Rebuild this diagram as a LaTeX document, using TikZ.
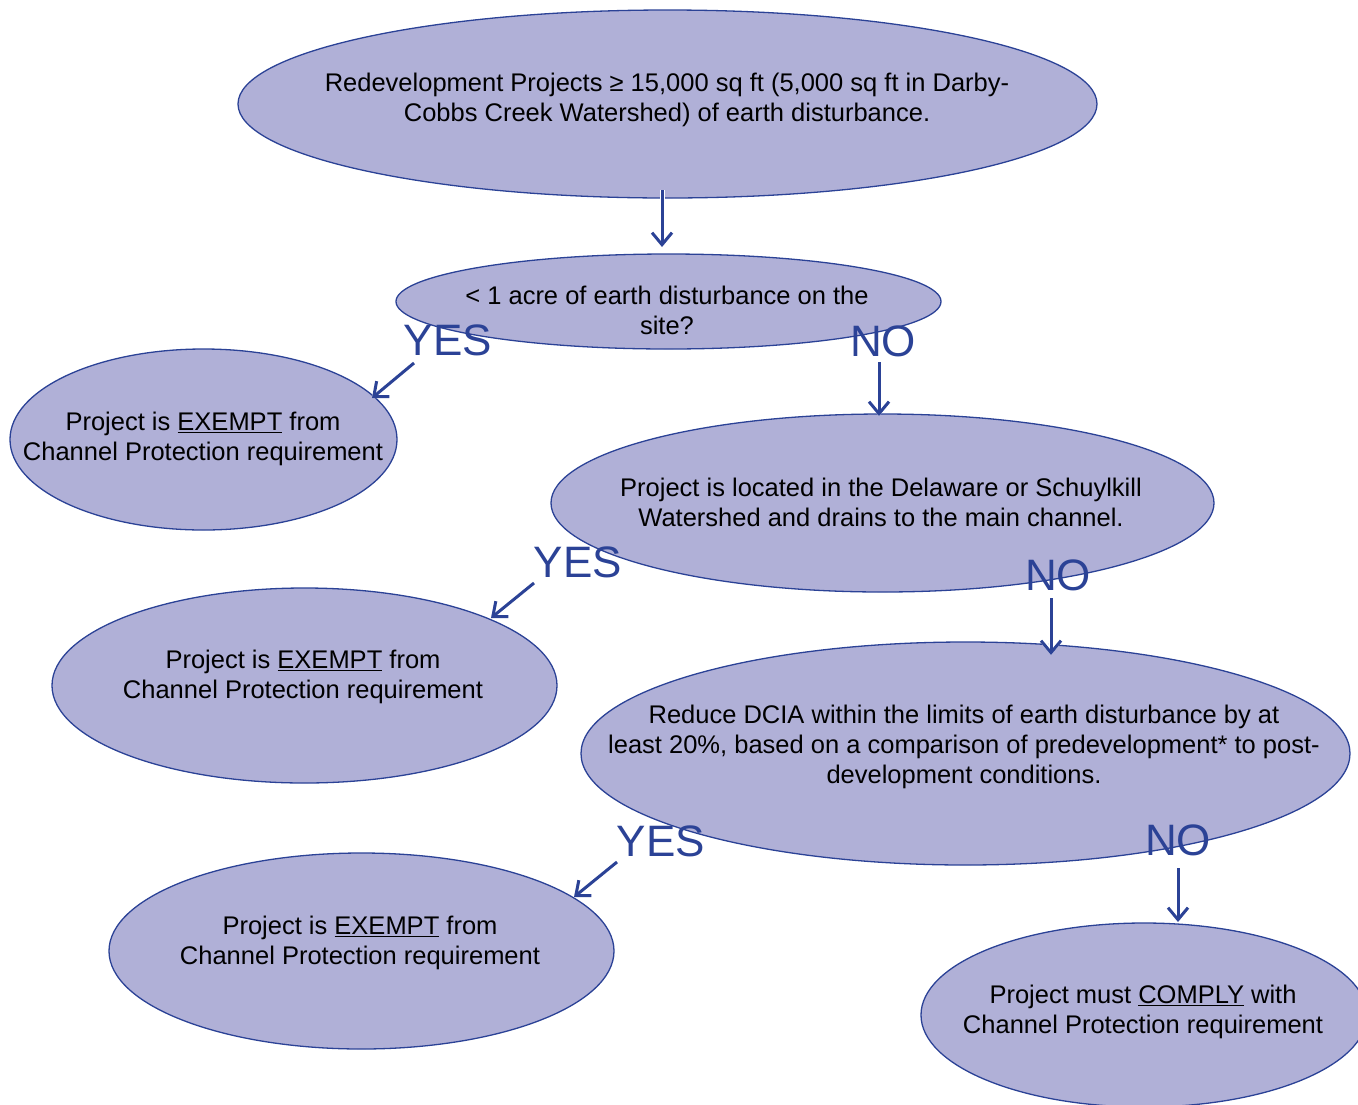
\documentclass[tikz,border=0pt]{standalone}
\usepackage{fontspec}
\setmainfont{Liberation Sans}
\usetikzlibrary{shapes.geometric,arrows.meta}
\definecolor{fillc}{RGB}{176,176,215}
\definecolor{linec}{RGB}{43,66,150}
\tikzset{
  bub/.style={ellipse, draw=linec, line width=1.3pt, fill=fillc, inner sep=0pt},
  txt/.style={align=center, font=\fontsize{25.5}{30}\selectfont, text=black, inner sep=0pt},
  arr/.style={-{Straight Barb[length=12pt,width=20pt]}, draw=linec, line width=3pt,
              preaction={draw=white, line width=5pt}},
  lbl/.style={font=\fontsize{44}{50}\selectfont, text=linec, inner sep=0pt},
}
\begin{document}
\begin{tikzpicture}[x=1pt,y=-1pt]
\useasboundingbox (0,0) rectangle (1358,1104);
\clip (0,0) rectangle (1358,1104);
% ellipses
\node[bub, minimum width=859pt, minimum height=188pt] (top) at (667.5,104) {};
\node[bub, minimum width=545pt, minimum height=95pt] (q) at (668.5,301.5) {};
\node[bub, minimum width=387pt, minimum height=181pt] (ex1) at (203.5,439.5) {};
\node[bub, minimum width=663pt, minimum height=178pt] (del) at (882.5,503) {};
\node[bub, minimum width=505pt, minimum height=195pt] (ex2) at (304.5,685.5) {};
\node[bub, minimum width=769pt, minimum height=223pt] (dcia) at (965.5,753.5) {};
\node[bub, minimum width=505pt, minimum height=196pt] (ex3) at (361.5,951) {};
\node[bub, minimum width=446pt, minimum height=184pt] (comply) at (1144,1015) {};
% texts
\node[txt] (toptxt) at (667,100) {Redevelopment Projects ≥ 15,000 sq ft (5,000 sq ft in Darby-\\Cobbs Creek Watershed) of earth disturbance.};
\node[txt] (qtxt) at (667,310) {< 1 acre of earth disturbance on the\\site?};
\node[txt] (ex1txt) at (203,439) {Project is \underline{EXEMPT} from\\Channel Protection requirement};
\node[txt] (deltxt) at (881,502) {Project is located in the Delaware or Schuylkill\\Watershed and drains to the main channel.};
\node[txt] (ex2txt) at (303,677) {Project is \underline{EXEMPT} from\\Channel Protection requirement};
\node[txt] (dciatxt) at (964,747) {Reduce DCIA within the limits of earth disturbance by at\\least 20\%, based on a comparison of predevelopment* to post-\\development conditions.};
\node[txt] (ex3txt) at (360,943) {Project is \underline{EXEMPT} from\\Channel Protection requirement};
\node[txt] (complytxt) at (1143,1012) {Project must \underline{COMPLY} with\\Channel Protection requirement};
% arrows
\coordinate (a1s) at (662,190); \coordinate (a1e) at (662,247);
\coordinate (y1s) at (414,363); \coordinate (y1e) at (372,398);
\coordinate (n1s) at (879,362); \coordinate (n1e) at (879,416);
\coordinate (y2s) at (534,583); \coordinate (y2e) at (491,618);
\coordinate (n2s) at (1051,598); \coordinate (n2e) at (1051,655);
\coordinate (y3s) at (617,862); \coordinate (y3e) at (574,897);
\coordinate (n3s) at (1178,868); \coordinate (n3e) at (1178,922);
\draw[arr] (a1s) -- (a1e);
\draw[arr] (y1s) -- (y1e);
\draw[arr] (n1s) -- (n1e);
\draw[arr] (y2s) -- (y2e);
\draw[arr] (n2s) -- (n2e);
\draw[arr] (y3s) -- (y3e);
\draw[arr] (n3s) -- (n3e);
% labels
\node[lbl] (yes1) at (448,340) {YES};
\node[lbl] (no1) at (883,341) {NO};
\node[lbl] (yes2) at (578,562) {YES};
\node[lbl] (no2) at (1058,575) {NO};
\node[lbl] (yes3) at (661,841) {YES};
\node[lbl] (no3) at (1178,840) {NO};
\end{tikzpicture}
\end{document}
